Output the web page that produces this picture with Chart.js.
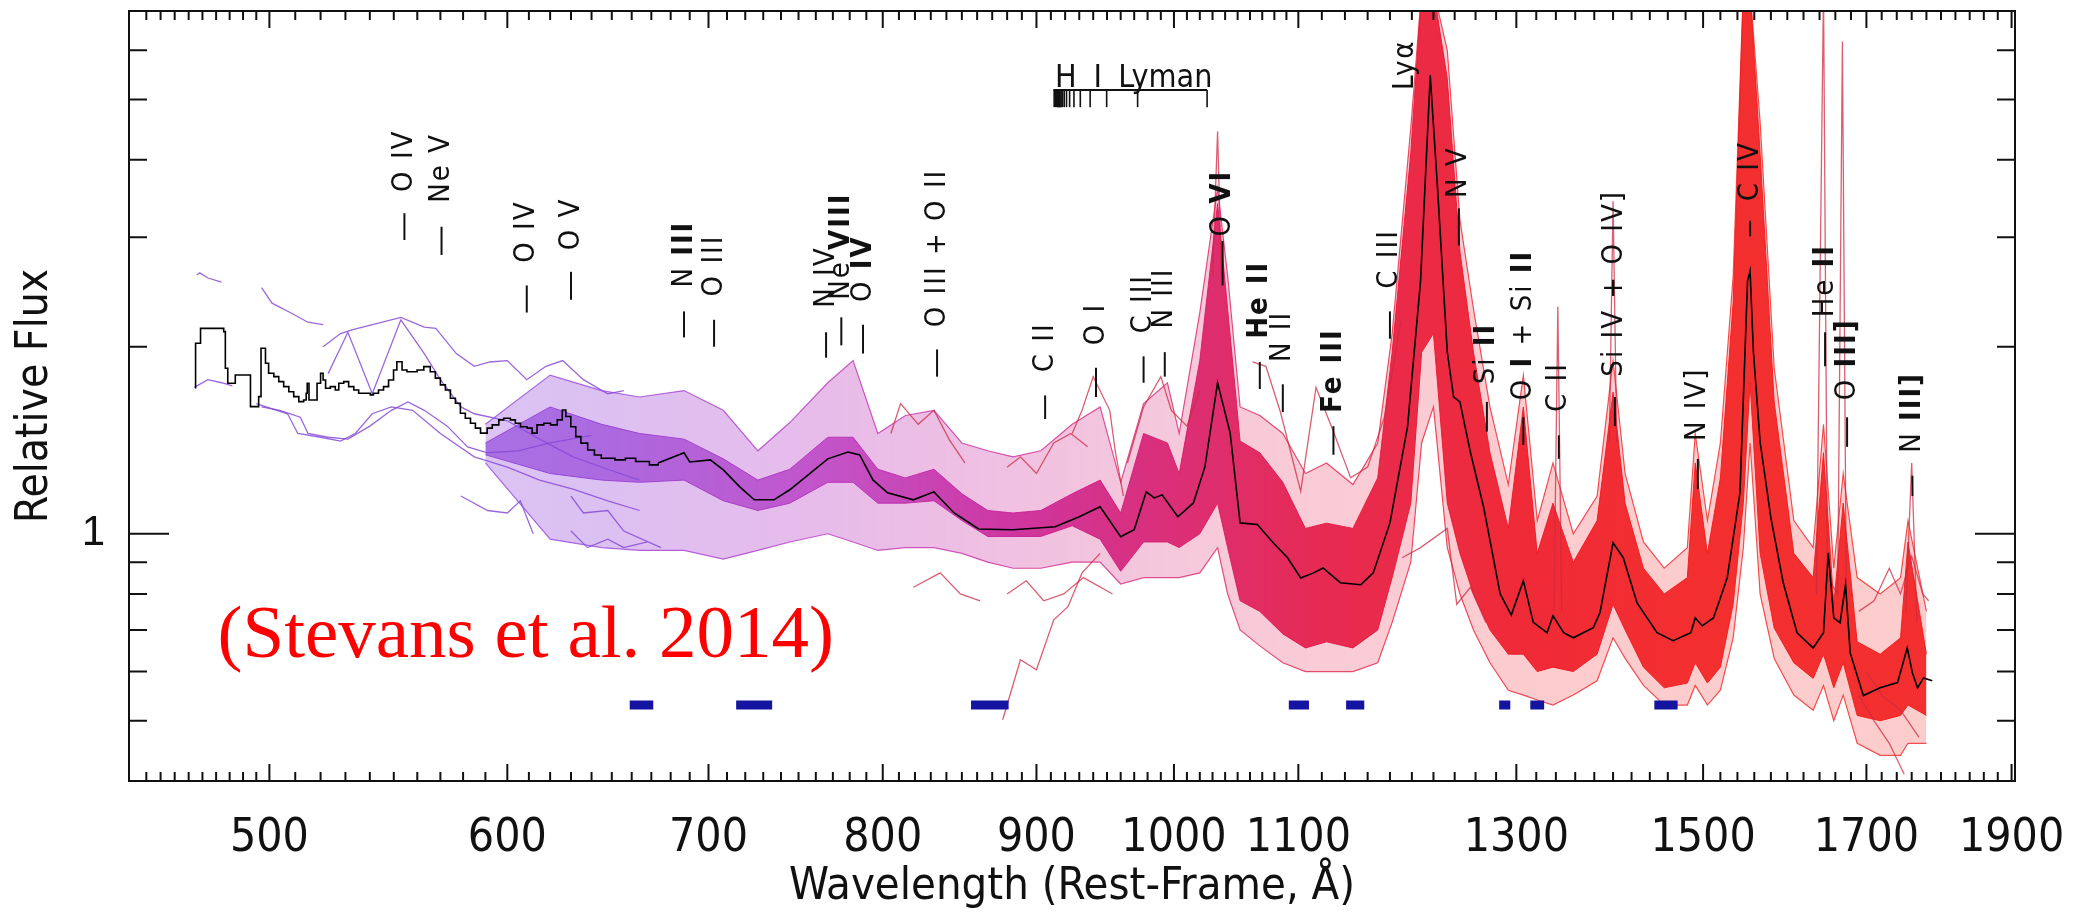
<!DOCTYPE html>
<html>
<head>
<meta charset="utf-8">
<style>
html,body{margin:0;padding:0;background:#fff;}
#wrap{width:2077px;height:916px;position:relative;}
</style>
<script src="https://cdn.jsdelivr.net/npm/chart.js@4.4.0/dist/chart.umd.min.js"></script>
</head>
<body>
<div id="wrap"><canvas id="myChart"></canvas></div>
<script>
// axis ranges and ticks
const xMin = 449, xMax = 1905, yMin = 0.40, yMax = 6.94;
const xMajor = [500, 600, 700, 800, 900, 1000, 1100, 1300, 1500, 1700, 1900];
const yMinorTicks = [0.5, 0.6, 0.7, 0.8, 0.9, 2, 3, 4, 5, 6];
const yMajor = [1];

// composite spectrum (black), binned part and fine part
const compStepWave = [472.4,472.5,474.3,482.8,483.4,484.3,487.1,492.8,495.9,496.8,498.5,499.7,501.7,503.6,505.5,507.5,509.4,511.4,513.3,514.3,514.7,515.4,518.6,520,521,522,523.9,525.9,527.3,529.3,531.3,533.4,535.4,540.2,541.5,543.6,545.7,547.8,549.9,551.3,553.5,555.6,559.9,562.8,565.6,567.8,570,572.2,574.4,576.6,578.8,581,583.3,585.5,587.8,590.8,593.1,596.1,598.3,601.4,603.7,606.1,609.2,611.5,613.8,617,620.2,623.4,625.8,627.5,629.9,632.3,634.8,638.1,641.4,644.8,651.6,656.8,662,669,673.5];
const compStepFlux = [1.717,2.026,2.141,2.115,1.847,1.747,1.801,1.602,1.662,1.989,1.881,1.813,1.790,1.757,1.725,1.693,1.662,1.632,1.642,1.683,1.747,1.642,1.747,1.813,1.768,1.715,1.725,1.704,1.747,1.757,1.725,1.704,1.683,1.673,1.683,1.704,1.725,1.768,1.835,1.892,1.835,1.823,1.835,1.858,1.823,1.780,1.736,1.704,1.652,1.622,1.563,1.534,1.506,1.479,1.452,1.479,1.497,1.525,1.534,1.525,1.506,1.487,1.479,1.452,1.497,1.506,1.497,1.525,1.582,1.544,1.487,1.433,1.399,1.364,1.339,1.323,1.315,1.323,1.307,1.291,1.299];
const compWave = [673.5,687,690,701,708,717,725,736,745,757,767,779,786,794,803,819,832,845,861,884,913,930,945,960,970,979,985,991,1003,1015,1024,1034,1044,1052,1066,1079,1091,1102,1113,1121,1136,1154,1165,1180,1196,1208,1217,1224,1233,1239,1245,1255,1268,1284,1295,1307,1317,1331,1337,1348,1358,1379,1386,1400,1411,1426,1448,1466,1486,1491,1499,1512,1528,1543,1552,1555,1559,1567,1580,1595,1612,1632,1645,1651,1658,1666,1673,1679,1696,1718,1741,1754,1761,1768,1776,1788];
const compFlux = [1.30,1.35,1.305,1.315,1.267,1.19,1.134,1.134,1.177,1.253,1.32,1.354,1.339,1.221,1.164,1.134,1.168,1.080,1.018,1.015,1.026,1.065,1.105,0.989,1.015,1.168,1.142,1.155,1.065,1.121,1.281,1.749,1.453,1.041,1.035,0.967,0.915,0.849,0.865,0.881,0.834,0.828,0.865,1.041,1.486,2.552,5.47,3.56,1.961,1.66,1.63,1.354,1.10,0.80,0.74,0.84,0.72,0.693,0.738,0.693,0.680,0.706,0.746,0.967,0.915,0.774,0.693,0.673,0.693,0.732,0.711,0.732,0.849,1.164,2.552,2.648,1.961,1.405,1.061,0.834,0.693,0.655,0.693,0.932,0.732,0.719,0.828,0.643,0.549,0.565,0.576,0.655,0.597,0.565,0.586,0.58];

// the bundle of individual spectra: dense core and sparse outer spread
const bandWave = [590,620,645,664,687,708,727,745,767,782,797,814,832,850,867,884,903,925,945,960,977,995,1004,1020,1034,1042,1052,1068,1087,1106,1124,1147,1169,1182,1199,1209,1220,1233,1245,1258,1274,1292,1307,1321,1337,1358,1383,1400,1413,1433,1456,1482,1491,1505,1520,1535,1547,1555,1567,1584,1608,1632,1645,1658,1670,1688,1718,1745,1755,1780];
const coreLo = [1.34,1.25,1.22,1.21,1.22,1.13,1.09,1.12,1.21,1.21,1.12,1.12,1.13,1.05,0.99,0.99,0.99,1.03,0.98,0.87,0.97,0.97,0.95,1.00,1.12,0.95,0.78,0.75,0.69,0.655,0.67,0.655,0.70,0.85,1.12,1.96,2.10,1.12,0.93,0.80,0.70,0.64,0.64,0.60,0.61,0.60,0.64,0.77,0.70,0.61,0.565,0.575,0.62,0.575,0.61,0.77,1.12,1.75,0.93,0.705,0.62,0.585,0.64,0.565,0.62,0.51,0.50,0.51,0.53,0.51];
const coreHi = [1.40,1.60,1.50,1.45,1.42,1.32,1.22,1.27,1.43,1.43,1.27,1.23,1.27,1.16,1.09,1.08,1.09,1.16,1.22,1.08,1.45,1.40,1.25,1.90,3.40,2.30,1.41,1.35,1.21,1.02,1.04,1.02,1.23,1.96,4.10,7.5,7.5,5.4,2.85,1.96,1.35,1.02,1.60,0.93,1.12,0.90,1.05,1.69,1.12,0.88,0.80,0.85,1.30,0.93,1.23,2.36,7.5,7.5,4.1,1.63,0.93,0.85,1.35,0.77,1.12,0.67,0.64,0.68,0.97,0.64];
const outerLo = [1.30,0.98,0.95,0.94,0.94,0.91,0.94,0.97,1.00,0.97,0.94,0.95,0.95,0.93,0.90,0.88,0.88,0.90,0.90,0.83,0.85,0.85,0.85,0.865,0.95,0.80,0.70,0.66,0.62,0.60,0.60,0.60,0.62,0.72,0.90,1.40,1.60,0.95,0.80,0.70,0.62,0.56,0.55,0.54,0.53,0.55,0.58,0.68,0.63,0.57,0.53,0.53,0.57,0.53,0.56,0.68,0.95,1.40,0.80,0.63,0.55,0.52,0.57,0.50,0.55,0.46,0.44,0.44,0.46,0.46];
const outerHi = [1.50,1.80,1.70,1.66,1.70,1.58,1.36,1.51,1.75,1.90,1.45,1.55,1.58,1.40,1.36,1.33,1.36,1.50,1.60,1.21,1.62,1.75,1.45,2.27,3.60,2.60,1.60,1.55,1.45,1.25,1.30,1.20,1.40,2.10,4.50,7.5,7.5,6.0,3.2,2.3,1.60,1.20,1.80,1.05,1.30,1.00,1.15,1.90,1.25,0.97,0.88,0.95,1.45,1.05,1.40,2.6,7.5,7.5,4.6,1.85,1.05,0.95,1.50,0.88,1.25,0.85,0.80,0.85,1.05,0.75];

// single short-wavelength spectra (purple)
const purpleA = [[473,2.61],[474,2.63],[477,2.58],[482,2.54]];
const purpleB = [[497,2.49],[501,2.35],[508,2.27],[515,2.19],[521,2.17]];
const purpleC = [[472,1.72],[477,1.77],[482,1.75],[486,1.73]];
const purpleD = [[495,1.62],[507,1.56],[511,1.45],[520,1.43],[528,1.41],[534,1.45],[541,1.56],[549,1.60],[558,1.58],[570,1.45],[585,1.33],[600,1.28],[615,1.22],[631,1.18],[648,1.13],[664,1.09]];
const purpleE = [[521,2.00],[528,2.10],[533,2.13],[553,2.23],[563,2.15],[568,2.14],[577,1.95],[585,1.86],[592,1.89],[600,1.90],[609,1.77],[618,1.86],[626,1.90],[636,1.77],[648,1.68],[656,1.70]];
const purpleF = [[523,1.81],[531,2.11],[541,1.68],[553,2.21],[563,1.95],[570,1.77],[579,1.60],[585,1.56],[600,1.52],[615,1.42],[631,1.33],[648,1.27],[664,1.22]];
const purpleG = [[497,1.60],[504,1.58],[512,1.54],[515,1.45],[523,1.43],[531,1.42],[540,1.49],[549,1.58],[556,1.63],[563,1.58],[573,1.49],[582,1.38],[591,1.35],[605,1.36],[620,1.40],[640,1.44]];
const purpleH = [[579,1.15],[591,1.09],[600,1.08],[606,1.13],[612,1.00]];
const purpleI = [[630,1.15],[636,1.08],[648,1.09],[656,1.01],[675,0.95]];
const purpleJ = [[630,1.01],[638,0.95],[648,0.98],[656,0.95],[668,0.97]];

// single outlying spectra (red) and narrow line spikes
const redA = [[877,0.502],[889,0.627],[900,0.604],[912,0.727],[922,0.763],[932,0.865],[945,0.93]];
const redB = [[925,1.45],[932,1.58],[940,1.79],[952,1.58],[956,1.36],[962,1.15]];
const redC = [[965,1.30],[977,1.60],[990,1.79],[998,1.58],[1010,1.49],[1020,1.70]];
const redD = [[1062,1.89],[1073,1.86],[1085,1.57],[1102,1.17],[1115,1.72],[1130,1.46],[1145,1.23],[1160,1.28],[1175,1.54],[1190,2.2]];
const redE = [[1191,0.915],[1208,0.95],[1233,1.02],[1242,0.77],[1255,0.82],[1270,0.72]];
const redF = [[1690,0.55],[1710,0.50],[1730,0.46],[1750,0.41]];
const redG = [[1700,0.60],[1720,0.55],[1745,0.52],[1770,0.47]];
const redH = [[1690,0.75],[1710,0.78],[1730,0.88],[1745,0.80],[1760,0.92],[1775,0.80],[1783,0.78]];
const redI = [[805,1.45],[811,1.62],[822,1.50],[832,1.58],[842,1.415],[852,1.30]];
const redJ = [[880,1.28],[889,1.33],[900,1.25],[912,1.40],[924,1.45],[936,1.38]];
const redK = [[819,0.82],[836,0.865],[849,0.80],[862,0.78]];
const redL = [[880,0.80],[893,0.84],[905,0.78],[919,0.80],[933,0.85],[954,0.80]];
const spikeOVI = [[1030,2.6],[1034,4.44],[1037,2.6]];
const spikeCII = [[1338,0.75],[1342,2.32],[1346,0.75]];
const spikeSiIV = [[1396,1.4],[1400,3.43],[1404,1.4]];
const spikeHeII = [[1636,0.80],[1645,7.5],[1650,0.85],[1663,0.8],[1669,6.2],[1674,0.8]];
const spikeNIII = [[1752,0.75],[1760,1.30],[1767,0.72]];

// continuum windows (blue bars)
const blueFrom = [659, 715, 856, 1092, 1141, 1283, 1314, 1445];
const blueTo = [671, 735, 881, 1109, 1157, 1294, 1328, 1471];
const blueLevel = 0.53;

// emission line identifications (*...* = bold)
const lineName = ['O IV','Ne V','O IV','O V','N *III*','O III','N IV','Ne *VIII*','O *IV*','O III + O II','C II','O I','C III','N III','O *VI*','*He II*','N II','*Fe III*','C III','Lyα','N V','Si *II*','O *I* + Si *II*','C II','Si IV + O IV]','N IV]','C IV','He *II*','O *III]*','N *III]*'];
const lineWave = [554.5,570.5,609,630,687,703,766,775,788,834,906,942,977,993,1038,1068,1087,1130,1180,1194,1244,1271,1307,1343,1402,1494,1555,1647,1675,1761];
const lineTextLo = [3.55,3.41,2.73,2.86,2.49,2.41,2.31,2.38,2.36,2.15,1.82,2.01,2.10,2.14,3.01,2.06,1.89,1.565,2.48,5.18,3.47,1.74,1.64,1.57,1.79,1.41,3.43,2.23,1.64,1.35];
const lineTickHi = [3.28,3.12,2.51,2.64,2.28,2.21,2.11,2.23,2.17,1.98,1.67,1.85,1.93,1.96,2.96,1.89,1.74,1.49,2.28,null,3.34,1.63,1.54,1.44,1.66,1.32,3.19,2.11,1.54,1.24];
const lineTickLo = [2.97,2.81,2.27,2.38,2.07,2.00,1.92,2.01,1.95,1.79,1.53,1.66,1.75,1.79,2.51,1.71,1.57,1.34,2.06,null,2.91,1.46,1.39,1.32,1.49,1.18,3.01,1.86,1.38,1.15];

// H I Lyman series marker
const lymanWaves = [1025.72,972.54,949.74,937.80,930.75,926.23,923.15,920.96,919.35,918.13,917.18,916.43,915.82,915.33,914.92];
const lymanLimit = 911.75;
const lymanBar = 5.18, lymanTickEnd = 4.86, lymanTextBase = 5.24;
const lymanText = [['H', 912.9], ['I', 940.3], ['Lyman', 958.3]];

const creditText = '(Stevans et al. 2014)';
const creditAt = [480.5, 0.633];

// ---------------------------------------------------------------
const FONT = "'DejaVu Sans Condensed', 'DejaVu Sans', sans-serif";
// wavelength, r, g, b, opacity of the dense core, opacity of the sparse spread
const gradStops = [[470,130,80,225,0.6,0.3],[640,145,60,215,0.65,0.32],[760,180,45,190,0.72,0.32],[880,200,30,150,0.85,0.28],[1000,215,25,105,0.88,0.24],[1120,228,20,65,0.88,0.22],[1300,238,20,35,0.88,0.22],[1500,242,25,25,0.88,0.22]];

const xTickVals = [];
for (let v = 455; v < 500; v += 5) xTickVals.push(v);
for (let v = 500; v <= 1100; v += 10) xTickVals.push(v);
for (let v = 1120; v <= 1900; v += 20) xTickVals.push(v);
const yTickVals = yMinorTicks.concat(yMajor).sort((a, b) => a - b);

function xy(w, f) { return w.map((v, i) => ({x: v, y: f[i]})); }
function pairs(a) { return a.map(p => ({x: p[0], y: p[1]})); }

// which: number = fixed opacity, 'core' / 'outer' = opacity from gradStops
function spectrumGradient(chart, which) {
  const area = chart.chartArea, sx = chart.scales.x;
  if (!area || !sx) return 'rgba(200,30,80,0.5)';
  const g = chart.ctx.createLinearGradient(area.left, 0, area.right, 0);
  gradStops.forEach(([w, r, gg, b, kc, ko]) => {
    let t = (sx.getPixelForValue(w) - area.left) / (area.right - area.left);
    t = Math.min(1, Math.max(0, t));
    const a = which === 'core' ? kc : which === 'outer' ? ko : which;
    g.addColorStop(t, 'rgba(' + r + ',' + gg + ',' + b + ',' + a + ')');
  });
  return g;
}

function thinLine(points, color, order) {
  return {data: pairs(points), borderColor: color, borderWidth: 1.3, fill: false, order: order};
}

const blueData = [];
blueFrom.forEach((a, i) => {
  blueData.push({x: a, y: blueLevel}, {x: blueTo[i], y: blueLevel}, {x: blueTo[i] + 1, y: null});
});

const purple = 'rgba(135,75,215,0.85)';
const red = 'rgba(205,40,65,0.75)';

const datasets = [
  {data: xy(compStepWave, compStepFlux), borderColor: '#000', borderWidth: 1.6, stepped: true, order: 0},
  {data: xy(compWave, compFlux), borderColor: '#000', borderWidth: 1.6, order: 0},
  {data: blueData, borderColor: '#1414a0', borderWidth: 9, borderCapStyle: 'butt', spanGaps: false, order: 1},
  thinLine(purpleA, purple, 3), thinLine(purpleB, purple, 3), thinLine(purpleC, purple, 3),
  thinLine(purpleD, purple, 3), thinLine(purpleE, purple, 3), thinLine(purpleF, purple, 3),
  thinLine(purpleG, purple, 3), thinLine(purpleH, purple, 3), thinLine(purpleI, purple, 3),
  thinLine(purpleJ, purple, 3),
  thinLine(redA, red, 3), thinLine(redB, red, 3), thinLine(redC, red, 3), thinLine(redD, red, 3),
  thinLine(redE, red, 3), thinLine(redF, red, 3), thinLine(redG, red, 3), thinLine(redH, red, 3),
  thinLine(redI, red, 3), thinLine(redJ, red, 3), thinLine(redK, red, 3), thinLine(redL, red, 3),
  thinLine(spikeOVI, red, 3), thinLine(spikeCII, red, 3), thinLine(spikeSiIV, red, 3),
  thinLine(spikeHeII, red, 3), thinLine(spikeNIII, red, 3),
  {data: xy(bandWave, coreHi), fill: '+1', borderWidth: 1,
   backgroundColor: c => spectrumGradient(c.chart, 'core'), borderColor: c => spectrumGradient(c.chart, 0.9), order: 6},
  {data: xy(bandWave, coreLo), fill: false, borderWidth: 1,
   borderColor: c => spectrumGradient(c.chart, 0.9), order: 6},
  {data: xy(bandWave, outerHi), fill: '+1', borderWidth: 1.2,
   backgroundColor: c => spectrumGradient(c.chart, 'outer'), borderColor: c => spectrumGradient(c.chart, 0.75), order: 7},
  {data: xy(bandWave, outerLo), fill: false, borderWidth: 1.2,
   borderColor: c => spectrumGradient(c.chart, 0.75), order: 7}
];

function drawRich(ctx, str, size) {
  let cx = 0;
  str.split('*').forEach((p, i) => {
    ctx.font = (i % 2 ? 'bold ' : '') + size + 'px ' + FONT;
    ctx.fillText(p, cx, 0);
    cx += ctx.measureText(p).width;
  });
}

const annotations = {
  id: 'annotations',
  afterDatasetsDraw(chart) {
    const {ctx, scales: {x, y}} = chart;
    ctx.save();
    ctx.fillStyle = '#111';
    ctx.strokeStyle = '#111';
    ctx.lineWidth = 2;
    lineWave.forEach((w, i) => {
      const px = x.getPixelForValue(w);
      if (lineTickHi[i] !== null) {
        ctx.beginPath();
        ctx.moveTo(px, y.getPixelForValue(lineTickLo[i]));
        ctx.lineTo(px, y.getPixelForValue(lineTickHi[i]));
        ctx.stroke();
      }
      ctx.save();
      ctx.translate(px, y.getPixelForValue(lineTextLo[i]));
      ctx.rotate(-Math.PI / 2);
      ctx.textAlign = 'left';
      ctx.textBaseline = 'middle';
      ctx.letterSpacing = '2px';
      drawRich(ctx, lineName[i], 29);
      ctx.restore();
    });

    // Lyman series bracket
    const yb = y.getPixelForValue(lymanBar), yt = y.getPixelForValue(lymanTickEnd);
    const xl = x.getPixelForValue(lymanLimit);
    ctx.beginPath();
    ctx.moveTo(xl, yb);
    ctx.lineTo(x.getPixelForValue(lymanWaves[0]), yb);
    ctx.stroke();
    ctx.lineWidth = 1.6;
    lymanWaves.forEach(w => {
      const px = x.getPixelForValue(w);
      ctx.beginPath(); ctx.moveTo(px, yb); ctx.lineTo(px, yt); ctx.stroke();
    });
    ctx.fillRect(xl, yb, x.getPixelForValue(lymanWaves[lymanWaves.length - 1]) - xl, yt - yb);
    ctx.font = '500 32px ' + FONT;
    ctx.textAlign = 'left';
    ctx.textBaseline = 'alphabetic';
    lymanText.forEach(([t, w]) => ctx.fillText(t, x.getPixelForValue(w), y.getPixelForValue(lymanTextBase)));

    // credit
    ctx.fillStyle = '#ff0000';
    ctx.font = "75px 'Liberation Serif', 'Times New Roman', serif";
    ctx.fillText(creditText, x.getPixelForValue(creditAt[0]), y.getPixelForValue(creditAt[1]));
    ctx.restore();
  }
};

const frame = {
  id: 'frame',
  afterDraw(chart) {
    const {ctx, chartArea: a, scales: {x, y}} = chart;
    ctx.save();
    ctx.strokeStyle = '#111';
    ctx.lineWidth = 2;
    ctx.strokeRect(a.left, a.top, a.right - a.left, a.bottom - a.top);
    ctx.beginPath();
    xTickVals.forEach(v => {
      const px = x.getPixelForValue(v);
      const len = xMajor.includes(v) ? 17 : 9;
      ctx.moveTo(px, a.bottom); ctx.lineTo(px, a.bottom - len);
      ctx.moveTo(px, a.top); ctx.lineTo(px, a.top + len);
    });
    yTickVals.forEach(v => {
      const py = y.getPixelForValue(v);
      const len = yMajor.includes(v) ? 40 : 18;
      ctx.moveTo(a.left, py); ctx.lineTo(a.left + len, py);
      ctx.moveTo(a.right, py); ctx.lineTo(a.right - len, py);
    });
    ctx.stroke();
    ctx.restore();
  }
};

new Chart(document.getElementById('myChart'), {
  type: 'line',
  data: {datasets: datasets},
  options: {
    responsive: true,
    maintainAspectRatio: false,
    animation: false,
    events: [],
    layout: {padding: {top: 11, right: 62, left: 0, bottom: 0}},
    elements: {point: {radius: 0}, line: {tension: 0}},
    plugins: {legend: {display: false}, tooltip: {enabled: false}},
    scales: {
      x: {
        type: 'logarithmic', min: xMin, max: xMax,
        grid: {display: false, drawTicks: false},
        border: {display: false},
        afterBuildTicks: s => { s.ticks = xTickVals.map(v => ({value: v})); },
        afterFit: s => { s.height = 135; s.paddingLeft = 0; s.paddingRight = 0; },
        ticks: {
          autoSkip: false, maxRotation: 0, padding: 30, color: '#111',
          font: {family: FONT, size: 46},
          callback: v => xMajor.includes(v) ? String(v) : ''
        },
        title: {display: true, text: 'Wavelength (Rest-Frame, Å)', color: '#111',
                font: {family: FONT, size: 45}, padding: {top: 0, bottom: 2}}
      },
      y: {
        type: 'logarithmic', min: yMin, max: yMax,
        grid: {display: false, drawTicks: false},
        border: {display: false},
        afterBuildTicks: s => { s.ticks = yTickVals.map(v => ({value: v})); },
        afterFit: s => { s.width = 129; s.paddingTop = 0; s.paddingBottom = 0; },
        ticks: {
          autoSkip: false, padding: 24, color: '#111',
          font: {family: "'Liberation Sans', Arial, sans-serif", size: 42},
          callback: v => yMajor.includes(v) ? String(v) : ''
        },
        title: {display: true, text: 'Relative Flux', color: '#111',
                font: {family: FONT, size: 44}, padding: {top: 9, bottom: 0}}
      }
    }
  },
  plugins: [annotations, frame]
});
</script>
</body>
</html>
